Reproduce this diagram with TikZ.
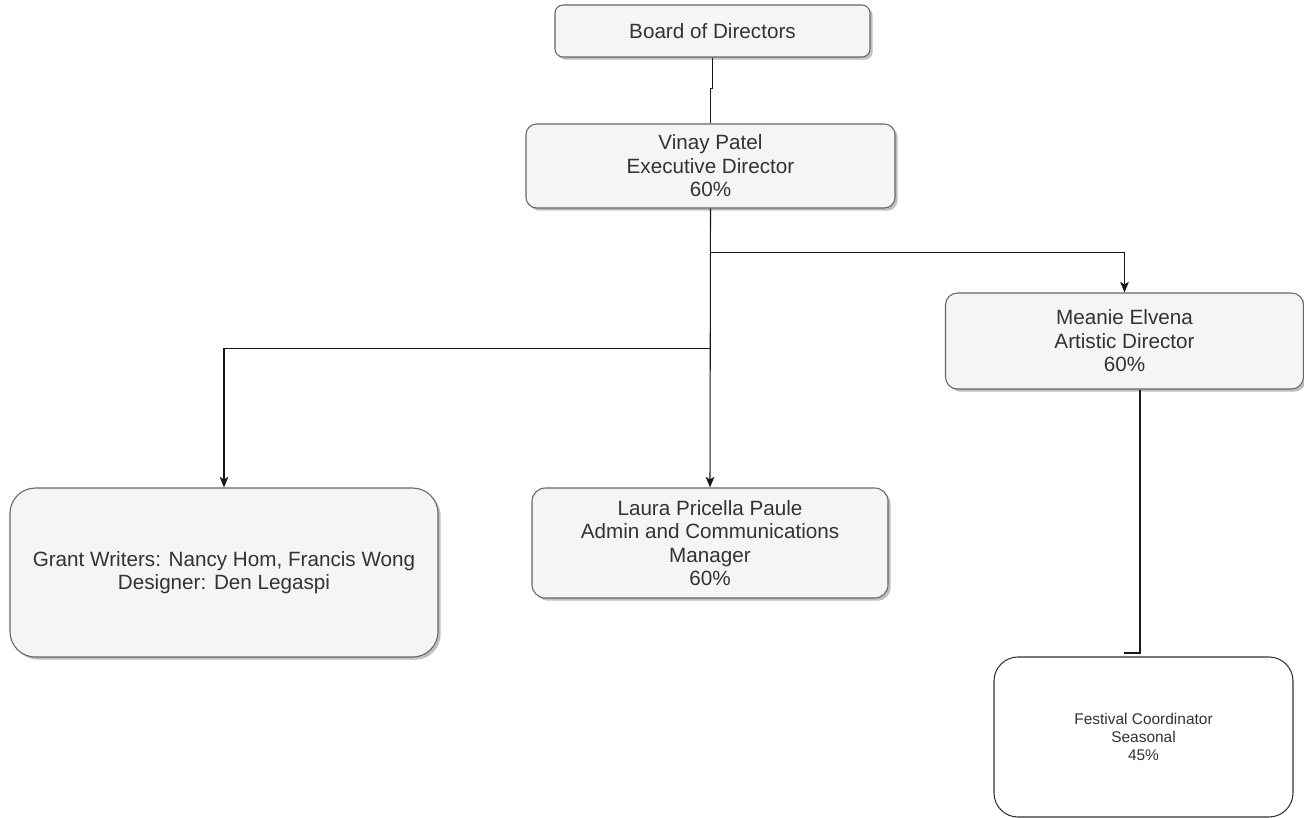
\documentclass[tikz,border=0pt]{standalone}
\usepackage{fontspec}
\setmainfont{Liberation Sans}
\usetikzlibrary{arrows.meta,shadows,calc}
\definecolor{boxfill}{HTML}{F5F5F5}
\definecolor{boxline}{HTML}{666666}
\definecolor{txt}{HTML}{333333}
\tikzset{
  orgbox/.style={draw=boxline, line width=0.8pt, fill=boxfill, text=txt, align=center,
    font=\fontsize{15.5pt}{17.6pt}\selectfont, inner sep=0pt,
    drop shadow={shadow xshift=2pt, shadow yshift=-2pt, fill=black, opacity=0.25}},
  plainbox/.style={draw=txt, line width=0.8pt, fill=white, text=txt, align=center,
    font=\fontsize{11.6pt}{13.7pt}\selectfont, inner sep=0pt},
  conn/.style={draw=black!90, line width=0.8pt},
  arr/.style={conn, -{Stealth[length=8pt,width=6.5pt,inset=2pt]}}
}
\begin{document}
\begin{tikzpicture}[x=0.75pt,y=-0.75pt]
\useasboundingbox (0,0) rectangle (1304,818);
\node[orgbox, minimum width=236.25pt, minimum height=39pt, rounded corners=6pt] (board) at (712.5,31) {Board of Directors};
\node[orgbox, minimum width=276.75pt, minimum height=63pt, rounded corners=8pt] (vinay) at (710.5,166) {Vinay Patel\\Executive Director\\60\%};
\node[orgbox, minimum width=268.5pt, minimum height=72pt, rounded corners=9pt] (meanie) at (1124.5,341) {Meanie Elvena\\Artistic Director\\60\%};
\node[orgbox, minimum width=321pt, minimum height=126.75pt, rounded corners=19pt] (grant) at (224,572.5) {Grant Writers: Nancy Hom, Francis Wong\\Designer: Den Legaspi};
\node[orgbox, minimum width=267pt, minimum height=82.5pt, rounded corners=10pt] (laura) at (710,543) {Laura Pricella Paule\\Admin and Communications\\Manager\\60\%};
\node[plainbox, minimum width=224.25pt, minimum height=120pt, rounded corners=18pt] (fest) at (1143.5,737) {Festival Coordinator\\Seasonal\\45\%};
\coordinate (fend) at (1124,653);
\draw[conn] (board.south) -- ++(0,31) -| (vinay.north);
\draw[arr] (vinay.south) -- ++(0,44) -| (meanie.north);
\draw[arr] (vinay.south) -- ++(0,140) -| (grant.north);
\draw[arr] (vinay.south) -- (laura.north);
\draw[conn] ([xshift=11.6pt]meanie.south) |- (fend);
\end{tikzpicture}
\end{document}
